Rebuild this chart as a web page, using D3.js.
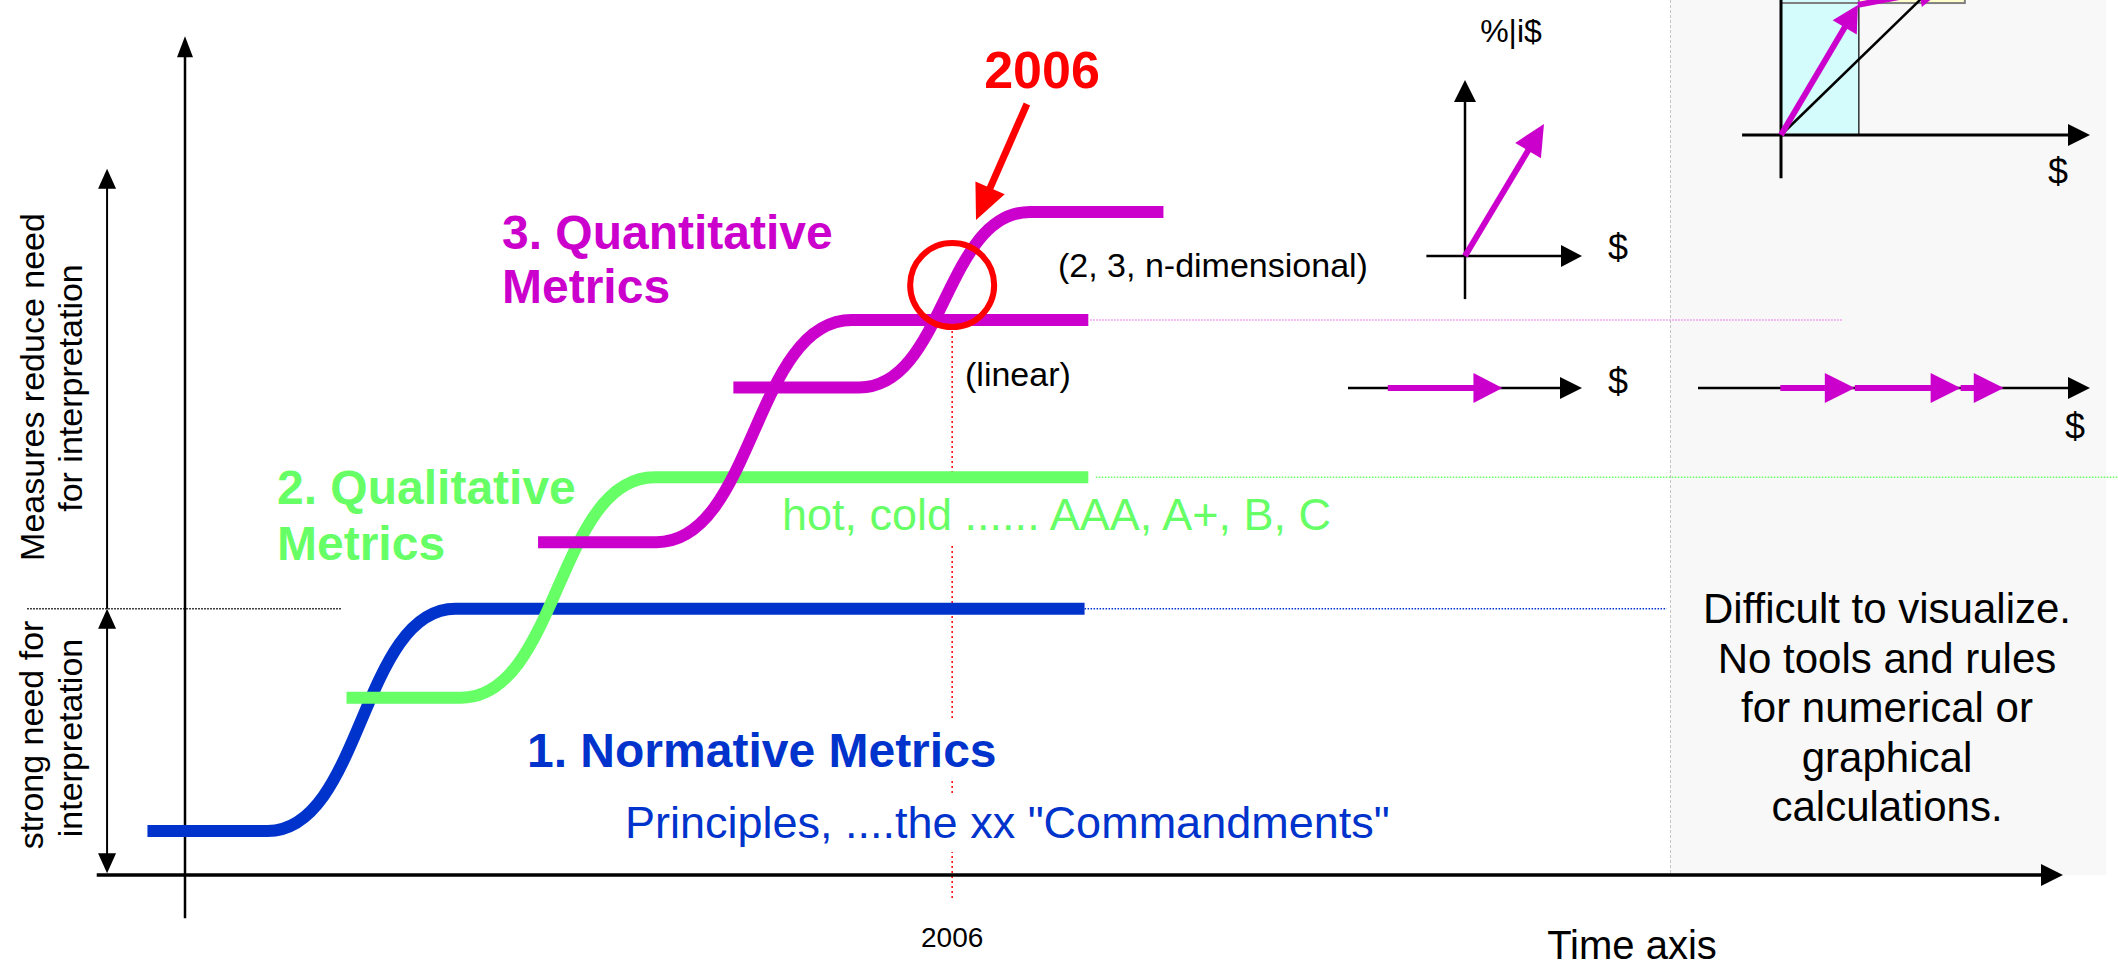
<!DOCTYPE html>
<html>
<head>
<meta charset="utf-8">
<script src="https://cdn.jsdelivr.net/npm/d3@7"></script>
<style>
  body { margin: 0; background: #fff; overflow: hidden; }
  text { font-family: "Liberation Sans", Arial, sans-serif; }
</style>
</head>
<body>
<script>
// stages of metrics over time: [time, level]  flat -> rise -> flat
var normative    = [[-2, 5.3], [4.4, 5.3], [14.4, 32], [47.9, 32]];
var qualitative  = [[8.6, 21.3], [14.7, 21.3], [25, 47.8], [48.1, 47.8]];
var quantLinear  = [[18.8, 40], [25.1, 40], [35.5, 66.7], [48.1, 66.7]];
var quantMulti   = [[29.2, 58.6], [35.9, 58.6], [45, 79.7], [52.1, 79.7]];

// dotted extensions of the levels: [level, from, to]
var guideLevels = [[32, 47.9, 78.9], [47.8, 48.5, 102.9], [66.7, 48.2, 88.3], [32, -8.4, 8.3]];
var guideColors = ["#0033cc", "#66ff66", "#ee88ee", "#000"];

var markYear = 2006, markTime = 40.85, markLevel = 70.9;
var markArrow = [[44.83, 92.67], [42.12, 78.73]];

var timeAxis = [-4.7, 100];
var levelAxis = [-5.2, 100.8];
var bandArrows = [[32, 84.9, false], [0.2, 32, true]];   // [from, to, head at start]
var panelTime = [79.1, 102.3];

// the little vector sketches ($ units)
var vec2d = [6.75, 7.5];
var vecLinear = [[1.7, 6.6]];
var vecChain = [[2.1, 4.0], [4.0, 6.7], [6.7, 7.8]];
var vecTop = [[0, 0, 2.49, 4.21], [2.49, 4.21, 5.3, 4.75]];
var topBoxes = [2.52, 5.95, 4.27];   // cyan width, yellow right, box bottom

var W = 2118, H = 968;
var magenta = "#cc00cc", blue = "#0033cc", green = "#66ff66", red = "#ff0000";

var svg = d3.select("body").append("svg")
    .attr("width", W)
    .attr("height", H);

var x = d3.scaleLinear().domain([0, 100]).range([185, 2063]);
var y = d3.scaleLinear().domain([0, 100]).range([875, 43]);

function head(g, x1, y1, x2, y2, len, half, color) {
    var dx = x2 - x1, dy = y2 - y1, d = Math.sqrt(dx * dx + dy * dy);
    var ux = dx / d, uy = dy / d;
    var bx = x2 - ux * len, by = y2 - uy * len;
    g.append("polygon")
        .attr("points", [[x2, y2], [bx - uy * half, by + ux * half], [bx + uy * half, by - ux * half]].join(" "))
        .attr("fill", color);
    return [bx + ux, by + uy];
}

function arrow(g, x1, y1, x2, y2, o) {
    var b = head(g, x1, y1, x2, y2, o.len, o.half, o.color);
    var s = [x1, y1];
    if (o.both) s = head(g, x2, y2, x1, y1, o.len, o.half, o.color);
    g.append("line")
        .attr("x1", s[0]).attr("y1", s[1])
        .attr("x2", b[0]).attr("y2", b[1])
        .attr("stroke", o.color)
        .attr("stroke-width", o.width);
}

// grey panel on the right
svg.append("rect")
    .attr("x", x(panelTime[0]))
    .attr("y", 0)
    .attr("width", x(panelTime[1]) - x(panelTime[0]))
    .attr("height", y(0))
    .attr("fill", "#f8f8f8");
svg.append("line")
    .attr("x1", x(panelTime[0])).attr("x2", x(panelTime[0]))
    .attr("y1", 0).attr("y2", y(0))
    .attr("stroke", "#c4c4c4")
    .attr("stroke-dasharray", "3,2");

// dotted guides
svg.append("g").selectAll("line")
    .data(guideLevels)
    .join("line")
    .attr("x1", function(d) { return x(d[1]); })
    .attr("x2", function(d) { return x(d[2]); })
    .attr("y1", function(d) { return y(d[0]); })
    .attr("y2", function(d) { return y(d[0]); })
    .attr("stroke", function(d, i) { return guideColors[i]; })
    .attr("stroke-width", 1.5)
    .attr("stroke-dasharray", "1.5,1.5");

// 2006 marker line
svg.append("line")
    .attr("x1", x(markTime)).attr("x2", x(markTime))
    .attr("y1", y(66)).attr("y2", y(-2.8))
    .attr("stroke", red)
    .attr("stroke-width", 1.5)
    .attr("stroke-dasharray", "2,3");

// axes
var gAxes = svg.append("g");
arrow(gAxes, x(timeAxis[0]), y(0), x(timeAxis[1]), y(0), {len: 22, half: 11, color: "#000", width: 3.5});
arrow(gAxes, x(0), y(levelAxis[0]), x(0), y(levelAxis[1]), {len: 21, half: 8, color: "#000", width: 2.5});
bandArrows.forEach(function(b) {
    arrow(gAxes, x(-4.15), y(b[0]), x(-4.15), y(b[1]), {len: 20, half: 9, color: "#000", width: 2, both: b[2]});
});

// metric curves
var line = d3.line()
    .x(function(d) { return x(d[0]); })
    .y(function(d) { return y(d[1]); })
    .curve(d3.curveBumpX);

svg.append("g").selectAll("path")
    .data([normative, qualitative, quantLinear, quantMulti])
    .join("path")
    .attr("d", line)
    .attr("fill", "none")
    .attr("stroke", function(d, i) { return [blue, green, magenta, magenta][i]; })
    .attr("stroke-width", 12);

// texts
var gText = svg.append("g");
function label(txt, px, py, size, color, opt) {
    opt = opt || {};
    var t = gText.append("text")
        .attr("x", px)
        .attr("y", py)
        .attr("font-size", size)
        .attr("font-weight", opt.bold ? "bold" : "normal")
        .attr("fill", color)
        .attr("text-anchor", opt.anchor || "start")
        .text(txt);
    if (opt.rotate) t.attr("x", 0).attr("y", 0).attr("transform", "translate(" + px + "," + py + ") rotate(-90)");
    if (opt.bg) {
        var b = t.node().getBBox();
        gText.insert("rect", function() { return t.node(); })
            .attr("x", b.x - 2).attr("y", b.y - 4)
            .attr("width", b.width + 4).attr("height", b.height + 8)
            .attr("fill", "#fff");
    }
    return t;
}

label("3. Quantitative", 502, 249, 48, magenta, {bold: true});
label("Metrics", 502, 303, 48, magenta, {bold: true});
label("2. Qualitative", 277, 504, 48, green, {bold: true});
label("Metrics", 277, 560, 48, green, {bold: true});
label("1. Normative Metrics", 527, 767, 48, blue, {bold: true, bg: true});
label("Principles, ....the xx \"Commandments\"", 625, 838, 45, blue, {bg: true});
label("hot, cold ...... AAA, A+, B, C", 782, 530, 45, green, {bg: true});
label("(2, 3, n-dimensional)", 1058, 277, 34, "#000");
label("(linear)", 965, 386, 34, "#000");

label("Measures reduce need", 44, 387, 34, "#000", {rotate: true, anchor: "middle"});
label("for interpretation", 82, 388, 34, "#000", {rotate: true, anchor: "middle"});
label("strong need for", 43, 735, 34, "#000", {rotate: true, anchor: "middle"});
label("interpretation", 82, 738, 34, "#000", {rotate: true, anchor: "middle"});

var panelLines = ["Difficult to visualize.", "No tools and rules", "for numerical or", "graphical", "calculations."];
panelLines.forEach(function(s, i) {
    label(s, 1887, 623 + i * 49.5, 42, "#000", {anchor: "middle"});
});

label("Time axis", 1632, 959, 40, "#000", {anchor: "middle"});
label(String(markYear), x(markTime), 947, 28, "#000", {anchor: "middle"});

// 2006 highlight
label(String(markYear), 1042, 88, 52, red, {bold: true, anchor: "middle"});
var gMark = svg.append("g");
arrow(gMark, x(markArrow[0][0]), y(markArrow[0][1]), x(markArrow[1][0]), y(markArrow[1][1]),
    {len: 35, half: 16, color: red, width: 7});
gMark.append("circle")
    .attr("cx", x(markTime))
    .attr("cy", y(markLevel))
    .attr("r", 42)
    .attr("fill", "none")
    .attr("stroke", red)
    .attr("stroke-width", 6);

// 2-D vector sketch
var g2 = svg.append("g");
var vx = d3.scaleLinear().domain([0, 10]).range([1465, 1582]);
var vy = d3.scaleLinear().domain([0, 10]).range([256, 80]);
arrow(g2, vx(-3.3), vy(0), vx(10), vy(0), {len: 21, half: 11, color: "#000", width: 2.5});
arrow(g2, vx(0), vy(-2.45), vx(0), vy(10), {len: 22, half: 11, color: "#000", width: 2.5});
arrow(g2, vx(0), vy(0), vx(vec2d[0]), vy(vec2d[1]), {len: 31, half: 15, color: magenta, width: 6});
label("%|i$", 1511, 42, 32, "#000", {anchor: "middle"});
label("$", 1618, 260, 36, "#000", {anchor: "middle"});

// linear sketch
var l1 = d3.scaleLinear().domain([0, 10]).range([1348, 1582]);
arrow(g2, l1(0), 388, l1(10), 388, {len: 22, half: 11, color: "#000", width: 2.5});
vecLinear.forEach(function(v) {
    arrow(g2, l1(v[0]), 388, l1(v[1]), 388, {len: 29, half: 15, color: magenta, width: 6});
});
label("$", 1618, 394, 36, "#000", {anchor: "middle"});

// chained vectors sketch
var l2 = d3.scaleLinear().domain([0, 10]).range([1698, 2090]);
arrow(g2, l2(0), 388, l2(10), 388, {len: 22, half: 11, color: "#000", width: 2.5});
vecChain.forEach(function(v) {
    arrow(g2, l2(v[0]), 388, l2(v[1]), 388, {len: 30, half: 15, color: magenta, width: 6});
});
label("$", 2075, 439, 36, "#000", {anchor: "middle"});

// top-right sketch (partly cut by the top edge)
var tx = d3.scaleLinear().domain([0, 10]).range([1781, 2090]);
var ty = d3.scaleLinear().domain([0, 10]).range([135, -174]);
g2.append("rect")
    .attr("x", tx(0)).attr("y", ty(10))
    .attr("width", tx(topBoxes[0]) - tx(0)).attr("height", ty(0) - ty(10))
    .attr("fill", "#d4fcfc");
g2.append("rect")
    .attr("x", tx(topBoxes[0])).attr("y", ty(10))
    .attr("width", tx(topBoxes[1]) - tx(topBoxes[0])).attr("height", ty(topBoxes[2]) - ty(10))
    .attr("fill", "#ffffcc")
    .attr("stroke", "#808080")
    .attr("stroke-width", 2);
g2.append("line")
    .attr("x1", tx(0)).attr("x2", tx(topBoxes[0]))
    .attr("y1", ty(topBoxes[2])).attr("y2", ty(topBoxes[2]))
    .attr("stroke", "#808080").attr("stroke-width", 2);
g2.append("line")
    .attr("x1", tx(topBoxes[0])).attr("x2", tx(topBoxes[0]))
    .attr("y1", ty(topBoxes[2])).attr("y2", ty(0))
    .attr("stroke", "#000").attr("stroke-width", 1.2);
g2.append("line")
    .attr("x1", tx(0)).attr("y1", ty(0))
    .attr("x2", tx(6)).attr("y2", ty(5.83))
    .attr("stroke", "#000").attr("stroke-width", 2.5);
arrow(g2, tx(-1.26), ty(0), tx(10), ty(0), {len: 22, half: 11, color: "#000", width: 3});
g2.append("line")
    .attr("x1", tx(0)).attr("x2", tx(0))
    .attr("y1", ty(-1.4)).attr("y2", ty(10))
    .attr("stroke", "#000").attr("stroke-width", 3);
vecTop.forEach(function(v) {
    arrow(g2, tx(v[0]), ty(v[1]), tx(v[2]), ty(v[3]), {len: 26, half: 14, color: magenta, width: 6});
});
label("$", 2058, 184, 36, "#000", {anchor: "middle"});
</script>
</body>
</html>
